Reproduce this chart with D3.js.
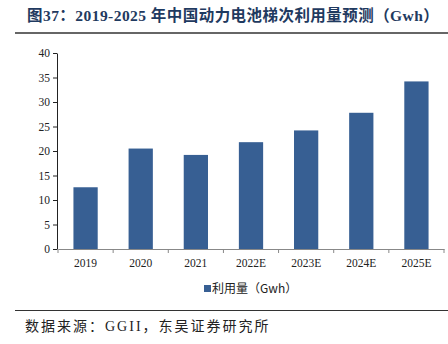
<!DOCTYPE html>
<html>
<head>
<meta charset="utf-8">
<script src="https://cdn.jsdelivr.net/npm/d3@7"></script>
<style>
  body { margin: 0; background: #fff; }
  svg { display: block; }
</style>
</head>
<body>
<div id="svg"></div>
<script>
// categories and values (Gwh)
let years = ['2019', '2020', '2021', '2022E', '2023E', '2024E', '2025E']
let usage = [12.6, 20.5, 19.2, 21.8, 24.2, 27.8, 34.2]
let yTicks = [0, 5, 10, 15, 20, 25, 30, 35, 40]

let width = 448, height = 344
let serif = '"Liberation Serif", "Times New Roman", "Noto Sans CJK SC", serif'

let svg = d3.select('#svg')
.append('svg')
.attr('width', width)
.attr('height', height)

// title
svg.append('text')
.text('图37：2019-2025 年中国动力电池梯次利用量预测（Gwh）')
.attr('x', 27)
.attr('y', 21)
.style('font-family', serif)
.style('font-weight', 'bold')
.style('font-size', '15.5px')
.style('letter-spacing', '0.45px')
.style('fill', '#1f3a60')

svg.append('line')
.attr('x1', 15).attr('x2', 448)
.attr('y1', 33).attr('y2', 33)
.style('stroke', '#333')
.style('stroke-width', 1.5)

let xScale = d3.scaleBand()
.domain(years)
.range([58, 444])
.paddingInner(0.56)
.paddingOuter(0.28)

let yScale = d3.scaleLinear()
.domain([0, 40])
.range([249, 53])

svg.selectAll('.bar')
.data(years)
.join('rect')
.attr('class', 'bar')
.attr('x', d => xScale(d))
.attr('width', xScale.bandwidth())
.attr('y', (d, i) => yScale(usage[i]))
.attr('height', (d, i) => yScale(0) - yScale(usage[i]))
.style('fill', '#375f93')

// y axis
let yAxis = svg.append('g')
.attr('transform', 'translate(57, 0)')
.call(d3.axisLeft(yScale).tickValues(yTicks).tickSize(4).tickSizeOuter(0))
yAxis.select('.domain').style('stroke', '#222')
yAxis.selectAll('.tick line').style('stroke', '#222')
yAxis.selectAll('text')
.attr('x', -7)
.style('font-family', serif)
.style('font-size', '11.5px')
.style('fill', '#222')

// x axis with ticks at band boundaries
let xAxis = svg.append('g')
.attr('transform', 'translate(0, 249)')
.call(d3.axisBottom(xScale).tickSize(0).tickSizeOuter(0))
xAxis.select('.domain').style('stroke', '#888')
xAxis.selectAll('text')
.attr('dy', '1.2em')
.attr('y', 4)
.style('font-family', serif)
.style('font-size', '11.5px')
.style('fill', '#222')

let step = xScale.step()
let edges = d3.range(years.length + 1).map(i => 58 + i * step)
xAxis.selectAll('.edge')
.data(edges)
.join('line')
.attr('class', 'edge')
.attr('x1', d => d).attr('x2', d => d)
.attr('y1', 0).attr('y2', 4)
.style('stroke', '#888')

// legend
svg.append('rect')
.attr('x', 204).attr('y', 285)
.attr('width', 7).attr('height', 7)
.style('fill', '#375f93')

svg.append('text')
.text('利用量（Gwh）')
.attr('x', 212)
.attr('y', 293)
.style('font-family', '"Noto Sans CJK SC", "Liberation Serif", sans-serif')
.style('font-size', '12px')
.style('fill', '#222')

// source note
svg.append('line')
.attr('x1', 15).attr('x2', 448)
.attr('y1', 310.5).attr('y2', 310.5)
.style('stroke', '#333')
.style('stroke-width', 1.2)

svg.append('text')
.text('数据来源：GGII，东吴证券研究所')
.attr('x', 25)
.attr('y', 331)
.style('font-family', serif)
.style('font-size', '14px')
.style('letter-spacing', '2px')
.style('fill', '#222')
</script>
</body>
</html>
